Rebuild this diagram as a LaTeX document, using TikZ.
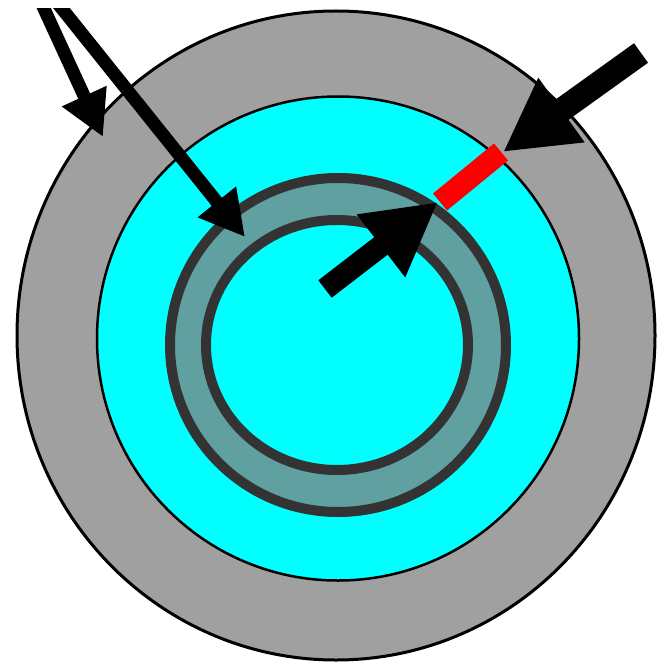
\documentclass[tikz,border=0pt]{standalone}
\usepackage{tikz}
\usetikzlibrary{arrows.meta}
\definecolor{shell}{RGB}{160,160,160}
\definecolor{core}{RGB}{0,255,255}
\definecolor{band}{RGB}{96,160,160}
\definecolor{bandedge}{RGB}{51,51,51}
\definecolor{gap}{RGB}{255,0,0}

\begin{document}
\begin{tikzpicture}[x=1pt,y=-1pt,
    ring/.style={draw=bandedge,line width=10pt},
    thinptr/.style={line width=13pt,-{Triangle[length=45pt,width=46pt]}},
    fatptr/.style={line width=24pt,-{Triangle[length=72pt,width=74pt]}}]
  \useasboundingbox (0,0) rectangle (656,666);
  \fill[white] (0,0) rectangle (656,666);
  \draw[fill=shell,line width=3pt] (336,335.5) ellipse [x radius=319pt,y radius=324.5pt];
  \draw[fill=core,line width=2.5pt] (338,338.5) ellipse [x radius=241pt,y radius=242pt];
  \fill[band,even odd rule] (338,345) ellipse [x radius=168pt,y radius=167pt]
                            (337,345) ellipse [x radius=131pt,y radius=125pt];
  \draw[ring] (338,345) ellipse [x radius=168pt,y radius=167pt];
  \draw[ring] (337,345) ellipse [x radius=131pt,y radius=125pt];
  \coordinate (gapin)  at (440,202);
  \coordinate (gapout) at (501,152);
  \coordinate (tailA) at (40,0);    \coordinate (tipA) at (103,137);
  \coordinate (tailB) at (55,0);    \coordinate (tipB) at (245,237);
  \coordinate (tailC) at (641,53);  \coordinate (tipC) at (503,152);
  \coordinate (tailD) at (325,289); \coordinate (tipD) at (438,202);
  \draw[gap,line width=22pt] (gapin) -- (gapout);
  \begin{scope}
    \clip (0,9) rectangle (656,666);
    \foreach \a/\b in {tailA/tipA,tailB/tipB} \draw[thinptr] (\a) -- (\b);
  \end{scope}
  \draw[fatptr] (tailC) -- (tipC);
  \draw[fatptr,line width=22pt] (tailD) -- (tipD);
\end{tikzpicture}
\end{document}
